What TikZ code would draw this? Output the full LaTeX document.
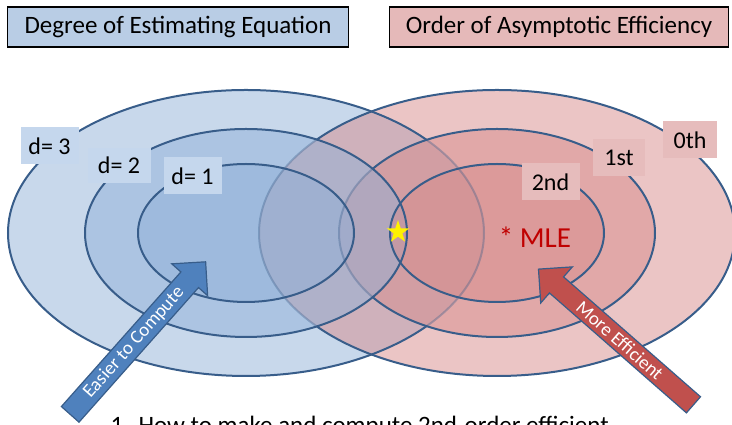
\documentclass[tikz,border=0pt]{standalone}
\usepackage{fontspec}
\setmainfont{Carlito}
\usetikzlibrary{shapes.geometric,shapes.arrows}

\definecolor{edgeblue}{RGB}{56,93,138}
\definecolor{bluefill}{RGB}{145,177,216}
\definecolor{redfill}{RGB}{215,140,140}
\definecolor{headblue}{RGB}{185,205,229}
\definecolor{headred}{RGB}{229,185,185}
\definecolor{lblblue}{RGB}{197,215,237}
\definecolor{lblred}{RGB}{230,188,188}
\definecolor{arrowblue}{RGB}{79,129,189}
\definecolor{arrowred}{RGB}{192,80,77}
\definecolor{mlered}{RGB}{192,0,0}

\begin{document}
\begin{tikzpicture}[x=1pt,y=1pt,
	headbox/.style={draw=black,line width=1.5pt,minimum width=341pt,minimum height=40pt,inner sep=0pt,font=\fontsize{25}{28}\selectfont},
	lbl/.style={minimum width=58pt,minimum height=37pt,inner sep=0pt,font=\fontsize{24}{26}\selectfont},
	ring/.style={draw=edgeblue,line width=2pt},
	faint/.style={draw=edgeblue,line width=2pt,draw opacity=0.35},
	bigarrow/.style={single arrow,draw=edgeblue,line width=1.2pt,minimum width=48pt,single arrow head extend=9pt,inner sep=0pt,text=white,font=\fontsize{19}{21}\selectfont}]
	\useasboundingbox (0,0) rectangle (732,425);
	\clip (0,0) rectangle (732,425);
	
	% two families of ellipses, layered outer to inner
	\fill[bluefill,fill opacity=0.5] (246,192) ellipse [x radius=238, y radius=143];
	\fill[redfill,fill opacity=0.5] (497,192) ellipse [x radius=238, y radius=143];
	\fill[redfill,fill opacity=0.5] (497,192) ellipse [x radius=158, y radius=104];
	\fill[bluefill,fill opacity=0.5] (246,192) ellipse [x radius=161, y radius=104];
	\fill[bluefill,fill opacity=0.5] (246,192) ellipse [x radius=108, y radius=69];
	\fill[redfill,fill opacity=0.5] (497,192) ellipse [x radius=107, y radius=69];
	
	\draw[ring] (246,192) ellipse [x radius=161, y radius=104];
	\draw[ring] (246,192) ellipse [x radius=108, y radius=69];
	\draw[ring] (497,192) ellipse [x radius=107, y radius=69];
	
	% outer rings fade where the other family lies on top
	\begin{scope}[even odd rule]
		\clip (0,0) rectangle (732,425) (497,192) ellipse [x radius=158, y radius=104];
		\draw[ring] (246,192) ellipse [x radius=238, y radius=143];
	\end{scope}
	\begin{scope}
		\clip (497,192) ellipse [x radius=158, y radius=104];
		\draw[faint] (246,192) ellipse [x radius=238, y radius=143];
	\end{scope}
	\begin{scope}[even odd rule]
		\clip (0,0) rectangle (732,425) (246,192) ellipse [x radius=161, y radius=104];
		\draw[ring] (497,192) ellipse [x radius=238, y radius=143];
		\draw[ring] (497,192) ellipse [x radius=158, y radius=104];
	\end{scope}
	\begin{scope}
		\clip (246,192) ellipse [x radius=161, y radius=104];
		\draw[faint] (497,192) ellipse [x radius=238, y radius=143];
		\draw[faint] (497,192) ellipse [x radius=158, y radius=104];
	\end{scope}
	
	\node[headbox,fill=headblue] (degree) at (178,398) {Degree of Estimating Equation};
	\node[headbox,fill=headred,minimum width=339pt] (order) at (559,398) {Order of Asymptotic Efficiency};
	
	\node[lbl,fill=lblblue] (d3) at (49.5,279) {d= 3};
	\node[lbl,fill=lblblue,minimum width=63pt,minimum height=35pt] (d2) at (119,259.5) {d= 2};
	\node[lbl,fill=lblblue] (d1) at (192.5,249) {d= 1};
	\node[lbl,fill=lblred,minimum width=54pt] (zeroth) at (690,285) {0th};
	\node[lbl,fill=lblred,minimum width=52pt] (first) at (619,267) {1st};
	\node[lbl,fill=lblred] (second) at (550.5,243) {2nd};
	
	\node[text=mlered,font=\fontsize{29}{32}\selectfont] (mle) at (535,188) {* MLE};
	\node[star,star points=5,star point ratio=2.6,fill=yellow,minimum size=24pt,inner sep=0pt] (star) at (398,193) {};
	
	\node[bigarrow,fill=arrowblue,minimum height=204pt,rotate=48.4] (easy) at (134,82.5) {Easier to Compute};
	\node[bigarrow,fill=arrowred,minimum height=206pt,rotate=-41.2,shape border rotate=180] (eff) at (620,84.5) {More Efficient};
	
	\node[anchor=base west,font=\fontsize{25}{28}\selectfont] (note) at (107,-9) {1.\hspace{9pt}How to make and compute 2nd-order efficient};
	
\end{tikzpicture}
\end{document}
